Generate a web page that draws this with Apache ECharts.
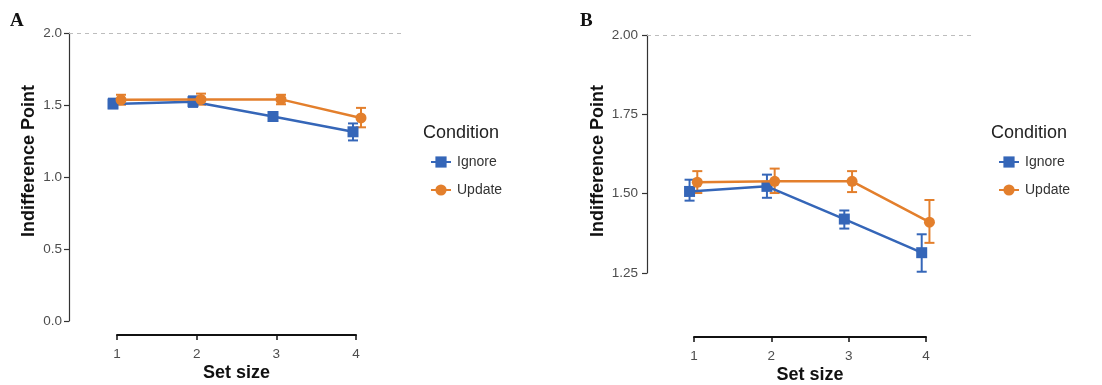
<!DOCTYPE html>
<html>
<head>
<meta charset="utf-8">
<script src="https://cdn.jsdelivr.net/npm/echarts@6/dist/echarts.min.js"></script>
<style>html,body{margin:0;padding:0;background:#fff;}#c{width:1102px;height:385px;}</style>
</head>
<body>
<div id="c"></div>
<script>
// ---- data ----
const setSize = [1, 2, 3, 4];
const ignoreMean = [1.507, 1.523, 1.420, 1.314];
const ignoreLow  = [1.478, 1.487, 1.390, 1.254];
const ignoreHigh = [1.544, 1.560, 1.447, 1.372];
const updateMean = [1.536, 1.539, 1.539, 1.410];
const updateLow  = [1.502, 1.502, 1.505, 1.345];
const updateHigh = [1.571, 1.579, 1.571, 1.480];
const conditions = ['Ignore', 'Update'];
const refLine = 2.0;

// ---- style ----
const BLUE = '#3566b8', ORANGE = '#e37f2c';
const dodge = 0.05;
const FONT = 'Liberation Sans, Arial, sans-serif';

const pts = (means, off) => setSize.map((s, i) => [s + off, means[i]]);
const errs = (lo, hi, off) => setSize.map((s, i) => [s + off, lo[i], hi[i]]);

function errRenderer(color) {
  return function (params, api) {
    const x = api.value(0), lo = api.value(1), hi = api.value(2);
    const a = api.coord([x, hi]), b = api.coord([x, lo]);
    const w = 5;
    const st = { stroke: color, lineWidth: 2 };
    return { type: 'group', children: [
      { type: 'line', shape: { x1: a[0], y1: a[1], x2: b[0], y2: b[1] }, style: st },
      { type: 'line', shape: { x1: a[0] - w, y1: a[1], x2: a[0] + w, y2: a[1] }, style: st },
      { type: 'line', shape: { x1: b[0] - w, y1: b[1], x2: b[0] + w, y2: b[1] }, style: st }
    ]};
  };
}

function panelSeries(xi, yi) {
  return [
    { type: 'custom', name: 'Ignore SE', xAxisIndex: xi, yAxisIndex: yi,
      renderItem: errRenderer(BLUE), data: errs(ignoreLow, ignoreHigh, -dodge), z: 3, silent: true },
    { type: 'custom', name: 'Update SE', xAxisIndex: xi, yAxisIndex: yi,
      renderItem: errRenderer(ORANGE), data: errs(updateLow, updateHigh, dodge), z: 3, silent: true },
    { type: 'line', name: 'Ignore', xAxisIndex: xi, yAxisIndex: yi, data: pts(ignoreMean, -dodge),
      symbol: 'rect', symbolSize: 11, itemStyle: { color: BLUE }, lineStyle: { color: BLUE, width: 2.5 }, z: 4,
      markLine: { silent: true, symbol: 'none', label: { show: false },
        lineStyle: { type: [4, 4], color: '#bdbdbd', width: 1 }, data: [{ yAxis: refLine }] } },
    { type: 'line', name: 'Update', xAxisIndex: xi, yAxisIndex: yi, data: pts(updateMean, dodge),
      symbol: 'circle', symbolSize: 11, itemStyle: { color: ORANGE }, lineStyle: { color: ORANGE, width: 2.5 }, z: 5 }
  ];
}

const yAxisStyle = (min, max, interval, digits, margin) => ({
  type: 'value', min, max, interval,
  axisLine: { show: true, lineStyle: { color: '#333', width: 1.2 } },
  axisTick: { show: true, length: 5, lineStyle: { color: '#333', width: 1.2 } },
  axisLabel: { color: '#4d4d4d', fontSize: 13.5, fontFamily: FONT, margin, formatter: v => v.toFixed(digits) },
  splitLine: { show: false }
});
const hiddenX = { type: 'value', min: 0.4, max: 4.6, show: false };
const hiddenY = { type: 'value', min: 0, max: 1, show: false };
const shownX = {
  type: 'value', min: 1, max: 4, interval: 1, position: 'bottom',
  name: 'Set size', nameLocation: 'middle', nameGap: 29,
  nameTextStyle: { fontSize: 18, fontWeight: 'bold', color: '#111', fontFamily: FONT },
  axisLine: { show: true, lineStyle: { color: '#111', width: 2 } },
  axisTick: { show: true, length: 5, lineStyle: { color: '#111', width: 1.5 } },
  axisLabel: { color: '#4d4d4d', fontSize: 13.5, fontFamily: FONT, margin: 12 },
  splitLine: { show: false }
};

const legendBase = (left, top) => ({
  orient: 'vertical', left, top, itemWidth: 20, itemHeight: 14, itemGap: 14,
  data: conditions, textStyle: { fontSize: 14, color: '#333', fontFamily: FONT, padding: [0, 0, 0, 1] }
});

const option = {
  animation: false,
  backgroundColor: '#fff',
  title: [
    { text: 'Condition', left: 423, top: 124, padding: 0, textStyle: { fontSize: 18, fontWeight: 'normal', color: '#222', fontFamily: FONT } },
    { text: 'Condition', left: 991, top: 124, padding: 0, textStyle: { fontSize: 18, fontWeight: 'normal', color: '#222', fontFamily: FONT } }
  ],
  legend: [legendBase(425, 150), legendBase(993, 150)],
  grid: [
    { left: 69, top: 33, width: 336, height: 288 },
    { left: 117, top: 300, width: 239, height: 35 },
    { left: 647, top: 35, width: 325, height: 238 },
    { left: 694, top: 300, width: 232, height: 37 }
  ],
  xAxis: [
    Object.assign({ gridIndex: 0 }, hiddenX),
    Object.assign({ gridIndex: 1 }, shownX),
    Object.assign({ gridIndex: 2 }, hiddenX),
    Object.assign({ gridIndex: 3 }, shownX)
  ],
  yAxis: [
    Object.assign({ gridIndex: 0 }, yAxisStyle(0, 2, 0.5, 1, 7)),
    Object.assign({ gridIndex: 1 }, hiddenY),
    Object.assign({ gridIndex: 2 }, yAxisStyle(1.25, 2, 0.25, 2, 9)),
    Object.assign({ gridIndex: 3 }, hiddenY)
  ],
  graphic: [
    { type: 'text', x: 10, y: 12, style: { text: 'A', font: 'bold 19px "Liberation Serif", "Times New Roman", serif', fill: '#111' } },
    { type: 'text', x: 580, y: 12, style: { text: 'B', font: 'bold 19px "Liberation Serif", "Times New Roman", serif', fill: '#111' } },
    { type: 'text', x: 29, y: 161, rotation: Math.PI / 2,
      style: { text: 'Indifference Point', font: 'bold 18px ' + FONT, fill: '#111', align: 'center', verticalAlign: 'middle' } },
    { type: 'text', x: 598, y: 161, rotation: Math.PI / 2,
      style: { text: 'Indifference Point', font: 'bold 18px ' + FONT, fill: '#111', align: 'center', verticalAlign: 'middle' } }
  ],
  series: [].concat(panelSeries(0, 0), panelSeries(2, 2))
};

const chart = echarts.init(document.getElementById('c'), null, { renderer: 'canvas' });
chart.setOption(option);
</script>
</body>
</html>
